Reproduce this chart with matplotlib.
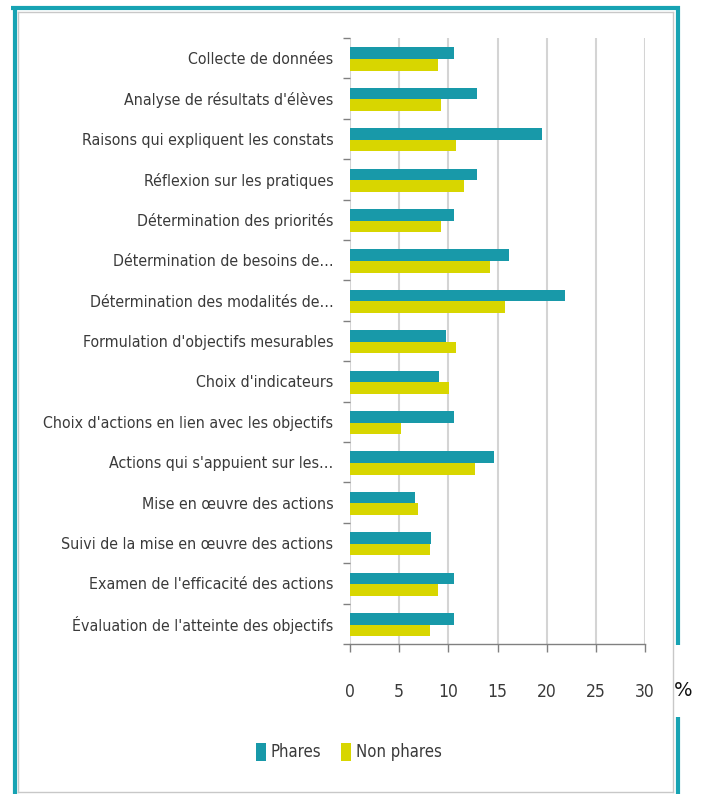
import numpy as np
import matplotlib
matplotlib.use("Agg")
import matplotlib.pyplot as plt
from matplotlib.lines import Line2D
from matplotlib.ticker import FixedLocator

plt.rcParams['font.family'] = ['DejaVu Sans']
plt.rcParams['font.stretch'] = 'condensed'

# données (%)
categories = [
    "Collecte de données",
    "Analyse de résultats d'élèves",
    "Raisons qui expliquent les constats",
    "Réflexion sur les pratiques",
    "Détermination des priorités",
    "Détermination de besoins de…",
    "Détermination des modalités de…",
    "Formulation d'objectifs mesurables",
    "Choix d'indicateurs",
    "Choix d'actions en lien avec les objectifs",
    "Actions qui s'appuient sur les…",
    "Mise en œuvre des actions",
    "Suivi de la mise en œuvre des actions",
    "Examen de l'efficacité des actions",
    "Évaluation de l'atteinte des objectifs",
]
phares = [10.6, 12.9, 19.5, 12.9, 10.6, 16.2, 21.9, 9.8, 9.0, 10.6, 14.6, 6.6, 8.2, 10.6, 10.6]
non_phares = [8.9, 9.3, 10.8, 11.6, 9.3, 14.2, 15.8, 10.8, 10.1, 5.2, 12.7, 6.9, 8.1, 8.9, 8.1]
xticks = [0, 5, 10, 15, 20, 25, 30]

teal = "#1899A9"
yellow = "#D8D600"
txt = "#3a3a3a"

W, H = 701, 794
fig = plt.figure(figsize=(W / 100, H / 100), dpi=100)
ax = fig.add_axes([350 / W, 1 - 644 / H, 295 / W, 606 / H])

y = np.arange(len(categories))
h = 0.285
ax.barh(y - h / 2 + 0.02, phares, height=h, color=teal, label="Phares", zorder=3)
ax.barh(y + h / 2 + 0.02, non_phares, height=h, color=yellow, label="Non phares", zorder=3)

ax.set_xlim(0, 30)
ax.set_ylim(len(categories) - 0.5, -0.5)
ax.set_xticks(xticks)
ax.set_xticklabels([str(v) for v in xticks])
ax.set_yticks(y)
ax.set_yticklabels(categories)
ax.yaxis.set_minor_locator(FixedLocator(np.arange(-0.5, len(categories), 1)))

ax.tick_params(axis='y', which='major', length=0, pad=12, labelsize=11.4, labelcolor=txt)
ax.tick_params(axis='y', which='minor', length=5, color="#808080", width=1)
ax.tick_params(axis='x', length=6, color="#808080", width=1, pad=22, labelsize=12.5, labelcolor=txt)

ax.grid(axis='x', color="#d4d4d4", linewidth=1.5, zorder=0)
ax.set_axisbelow(True)
for s in ['top', 'right', 'left']:
    ax.spines[s].set_visible(False)
ax.spines['bottom'].set_color("#808080")
ax.spines['bottom'].set_linewidth(1)

fig.text(683 / W, 1 - 691 / H, "%", fontsize=14, color="#111111", fontstretch='normal',
         ha='center', va='center')

fig.legend(loc='center', bbox_to_anchor=(349 / W, 1 - 752 / H), ncol=2, frameon=False,
           fontsize=12, handlelength=0.6, handleheight=1.3, handletextpad=0.3,
           columnspacing=1.2, labelcolor=txt)

# cadre
def fline(x0, y0, x1, y1, **kw):
    fig.add_artist(Line2D([x0 / W, x1 / W], [1 - y0 / H, 1 - y1 / H], transform=fig.transFigure, **kw))

gray = dict(color="#c8c8c8", linewidth=1)
fline(18, 12, 673, 12, **gray)
fline(18, 12, 18, 792, **gray)
fline(673, 12, 673, 792, **gray)
fline(18, 792, 673, 792, **gray)
tb = dict(color="#17A3B3", linewidth=3, solid_capstyle='butt')
fline(11, 8, 679.5, 8, **tb)
fline(14.5, 6, 14.5, 794, **tb)
fline(677.5, 6, 677.5, 645, **tb)
fline(677.5, 717, 677.5, 794, **tb)

fig.savefig("out.png", dpi=100)
